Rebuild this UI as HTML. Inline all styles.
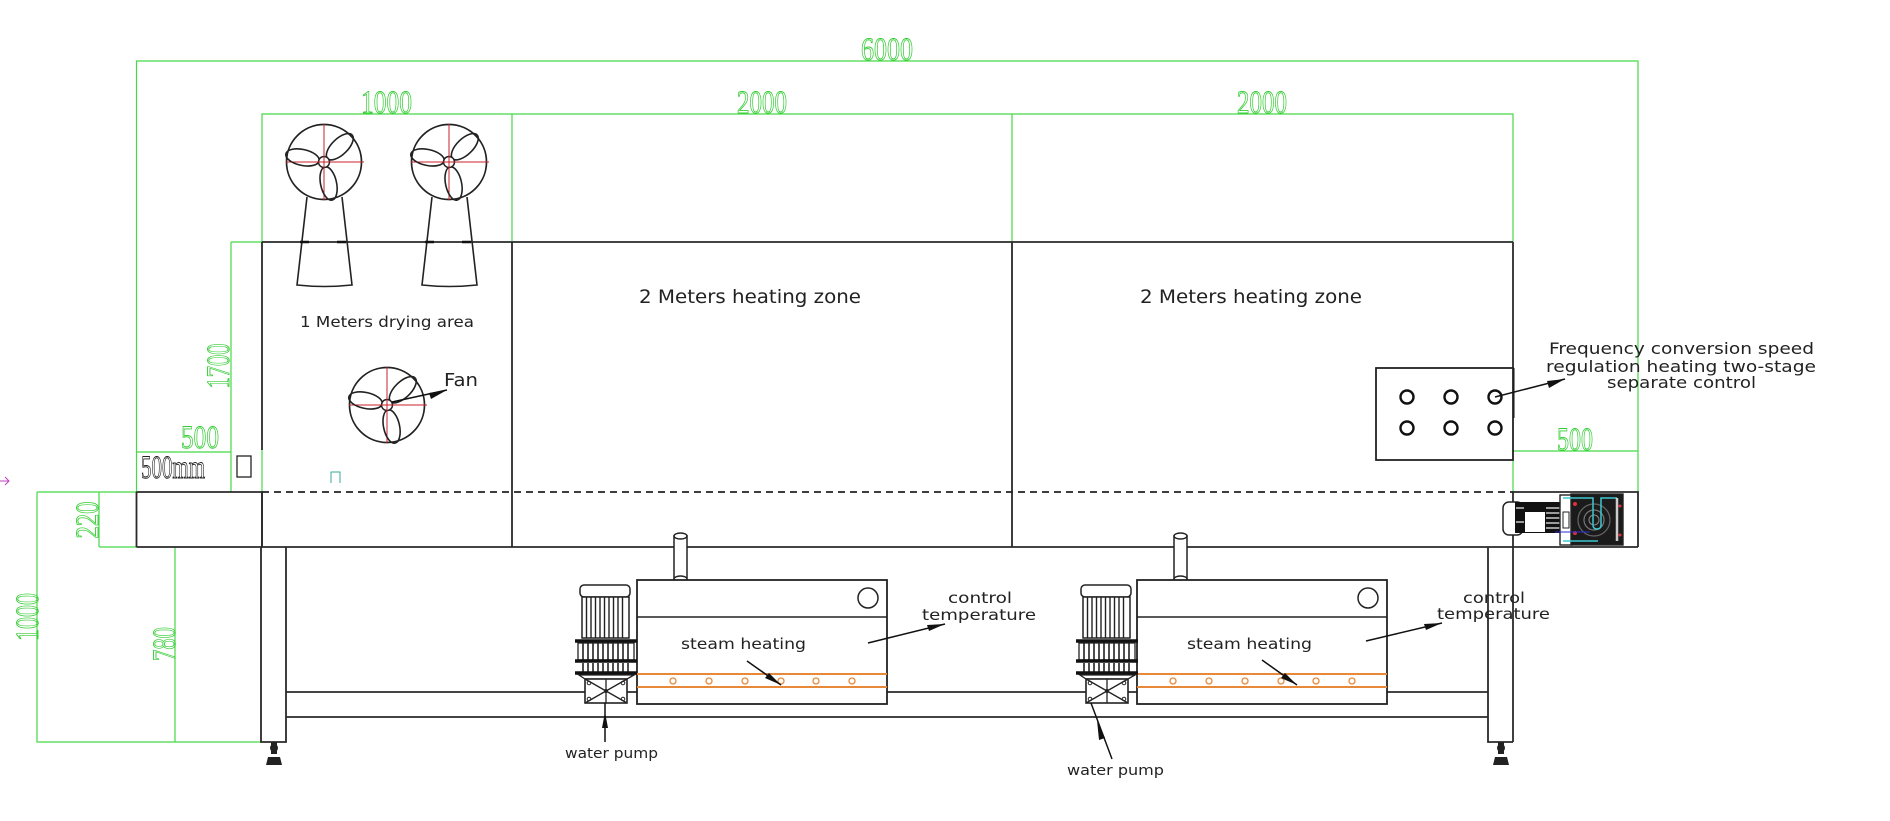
<!DOCTYPE html>
<html><head><meta charset="utf-8"><style>
html,body{margin:0;padding:0;background:#fff;}
svg{display:block;}
.k{stroke:#2a2a2a;stroke-width:1.8;fill:none;}
.gl{stroke:#45d945;stroke-width:1.2;fill:none;}
.cad{fill:none;stroke:#35cc35;stroke-width:0.9;font-family:"Liberation Serif",serif;font-size:33px;}
.lbl{fill:#222;font-family:"DejaVu Sans","Liberation Sans",sans-serif;}
.or{stroke:#e8893a;stroke-width:2;fill:none;}
</style></head><body>
<svg width="1890" height="821" viewBox="0 0 1890 821" xmlns="http://www.w3.org/2000/svg">
<defs>
<g id="fan">
  <circle r="37.5" fill="#fff" stroke="#222" stroke-width="1.7"/>
  <line x1="-38" y1="0" x2="40" y2="0" stroke="#c8202a" stroke-width="1"/>
  <line x1="0" y1="-38" x2="0" y2="38" stroke="#c8202a" stroke-width="1"/>
  <g fill="none" stroke="#222" stroke-width="1.6">
    <ellipse rx="17" ry="8" transform="rotate(-44) translate(22,0)"/>
    <ellipse rx="17" ry="8" transform="rotate(192) translate(22,0)"/>
    <ellipse rx="17" ry="8" transform="rotate(78) translate(22,0)"/>
  </g>
  <circle r="5.5" fill="#fff" stroke="#222" stroke-width="1.5"/>
  <line x1="-8" y1="0" x2="8" y2="0" stroke="#c8202a" stroke-width="1"/>
  <line x1="0" y1="-8" x2="0" y2="8" stroke="#c8202a" stroke-width="1"/>
</g>
<g id="pump">
  <rect x="580" y="585" width="50" height="12" rx="4" fill="#fff" stroke="#222" stroke-width="1.5"/>
  <rect x="582" y="597" width="47" height="41" fill="#fff" stroke="#222" stroke-width="1.5"/>
  <path d="M586.5,597V638M591,597V638M595.5,597V638M600,597V638M604.5,597V638M609,597V638M613.5,597V638M618,597V638M622.5,597V638" stroke="#222" stroke-width="1.4"/>
  <line x1="575" y1="641" x2="637" y2="641" stroke="#111" stroke-width="3.5"/>
  <rect x="578" y="643" width="56" height="17" fill="#fff" stroke="#222" stroke-width="1.3"/>
  <path d="M583,643V660M588,643V660M593,643V660M598,643V660M603,643V660M608,643V660M613,643V660M618,643V660M623,643V660M628,643V660" stroke="#222" stroke-width="1.6"/>
  <line x1="575" y1="661" x2="637" y2="661" stroke="#111" stroke-width="3.5"/>
  <path d="M583,663V672M588,663V672M593,663V672M598,663V672M603,663V672M608,663V672M613,663V672M618,663V672M623,663V672M628,663V672" stroke="#222" stroke-width="1.6"/>
  <line x1="575" y1="673" x2="637" y2="673" stroke="#111" stroke-width="3.5"/>
  <path d="M579,675H634L627,679H585Z" fill="#fff" stroke="#222" stroke-width="1.3"/>
  <rect x="585" y="679" width="42" height="24" fill="#fff" stroke="#222" stroke-width="1.6"/>
  <path d="M585,679L627,703M627,679L585,703M606,679V703" stroke="#222" stroke-width="1.3"/>
  <circle cx="589" cy="683" r="1.8" fill="none" stroke="#222"/>
  <circle cx="623" cy="683" r="1.8" fill="none" stroke="#222"/>
  <circle cx="589" cy="699" r="1.8" fill="none" stroke="#222"/>
  <circle cx="623" cy="699" r="1.8" fill="none" stroke="#222"/>
  <circle cx="606" cy="691" r="2" fill="#222"/>
</g>
<g id="tank">
  <rect x="674" y="536" width="13" height="44" fill="#fff" stroke="#222" stroke-width="1.5"/>
  <ellipse cx="680.5" cy="536" rx="6.5" ry="3" fill="#fff" stroke="#222" stroke-width="1.5"/>
  <ellipse cx="680.5" cy="579" rx="6.5" ry="3" fill="#fff" stroke="#222" stroke-width="1.5"/>
  <rect x="637" y="580" width="250" height="124" fill="#fff" stroke="#222" stroke-width="1.8"/>
  <line x1="637" y1="617" x2="887" y2="617" stroke="#222" stroke-width="1.6"/>
  <circle cx="868" cy="598" r="10" fill="none" stroke="#222" stroke-width="1.5"/>
  <line x1="637" y1="674" x2="887" y2="674" class="or"/>
  <line x1="637" y1="687" x2="887" y2="687" class="or"/>
  <g fill="#fff" stroke="#e8893a" stroke-width="1.3">
    <circle cx="673" cy="681" r="3"/><circle cx="709" cy="681" r="3"/><circle cx="745" cy="681" r="3"/>
    <circle cx="781" cy="681" r="3"/><circle cx="816" cy="681" r="3"/><circle cx="852" cy="681" r="3"/>
  </g>
</g>
</defs>

<!-- ============ GREEN DIMENSION LINES ============ -->
<g class="gl">
  <path d="M136.5,492V61H1638V492"/>
  <path d="M262,242V114H1513V242"/>
  <path d="M512,114V242M1012,114V242"/>
  <path d="M231,242H262M231,242V492"/>
  <path d="M136.5,452H231"/>
  <path d="M262,450V492"/>
  <path d="M1513,451H1638M1513,451V492"/>
  <path d="M37,492H136.5M99,547H136.5M99,492V547"/>
  <path d="M37,492V742H261M175,547V742"/>
</g>

<!-- CAD labels -->
<text class="cad" x="861" y="60" textLength="52" lengthAdjust="spacingAndGlyphs">6000</text>
<text class="cad" x="361" y="113" textLength="51" lengthAdjust="spacingAndGlyphs">1000</text>
<text class="cad" x="737" y="113" textLength="50" lengthAdjust="spacingAndGlyphs">2000</text>
<text class="cad" x="1237" y="113" textLength="50" lengthAdjust="spacingAndGlyphs">2000</text>
<text class="cad" x="181" y="448" font-size="30" textLength="38" lengthAdjust="spacingAndGlyphs">500</text>
<text class="cad" x="1557" y="450" font-size="31" textLength="36" lengthAdjust="spacingAndGlyphs">500</text>
<text class="cad" transform="translate(229,366) rotate(-90)" text-anchor="middle" font-size="32" textLength="45" lengthAdjust="spacingAndGlyphs">1700</text>
<text class="cad" transform="translate(98,520) rotate(-90)" text-anchor="middle" font-size="34" textLength="37" lengthAdjust="spacingAndGlyphs">220</text>
<text class="cad" transform="translate(38,617) rotate(-90)" text-anchor="middle" font-size="36" textLength="48" lengthAdjust="spacingAndGlyphs">1000</text>
<text class="cad" transform="translate(175,644) rotate(-90)" text-anchor="middle" font-size="34" textLength="34" lengthAdjust="spacingAndGlyphs">780</text>
<text x="141" y="478" font-family="Liberation Serif, serif" font-size="33" fill="none" stroke="#222" stroke-width="0.9" textLength="64" lengthAdjust="spacingAndGlyphs">500mm</text>
<rect x="237" y="456" width="14" height="21" fill="none" stroke="#222" stroke-width="1.3"/>

<!-- magenta mark & cyan mark -->
<path d="M0,481H9M5,477L9,481L5,485" stroke="#c040c0" stroke-width="1" fill="none"/>
<path d="M331,483V472H340V483" stroke="#3aa8a0" stroke-width="1" fill="none"/>

<!-- ============ MACHINE BODY ============ -->
<g class="k">
  <path d="M262,242H1513"/>
  <path d="M262,242V450M262,492V547"/>
  <path d="M1513,242V418"/>
  <path d="M512,242V547M1012,242V547"/>
  <path d="M136.5,492H262V547M136.5,492V547"/>
  <path d="M136.5,547H1638"/>
  <path d="M1513,492H1638V547"/>
  <path d="M1513,492V742"/>
  <path d="M261,547V742H286V547"/>
  <path d="M1488,547V742H1513"/>
  <path d="M286,692H1488M286,717H1488"/>
</g>
<path d="M1513,368V418" stroke="#111" stroke-width="3"/>
<line x1="262" y1="492" x2="1513" y2="492" stroke="#222" stroke-width="1.8" stroke-dasharray="7,5"/>

<!-- feet -->
<g fill="#222">
  <rect x="271" y="742" width="6" height="12"/>
  <circle cx="274" cy="748" r="4"/>
  <path d="M266,765L268,757H280L282,765Z"/>
  <rect x="1498" y="742" width="6" height="12"/>
  <circle cx="1501" cy="748" r="4"/>
  <path d="M1493,765L1495,757H1507L1509,765Z"/>
</g>

<!-- right motor -->
<rect x="1503" y="502" width="20" height="33" rx="6" fill="#fff" stroke="#222" stroke-width="1.5"/>
<rect x="1515" y="502" width="47" height="31" fill="#111"/>
<rect x="1525" y="512" width="20" height="20" fill="#fff"/>
<path d="M1546,508H1561M1546,513H1561M1546,518H1561M1546,523H1561M1546,528H1561M1516,508H1524M1516,522H1524" stroke="#eee" stroke-width="1.3"/>
<rect x="1560" y="495" width="12" height="50" fill="#fff" stroke="#222" stroke-width="1.4"/>
<rect x="1563" y="512" width="6" height="16" fill="#fff" stroke="#222"/>
<rect x="1571" y="494" width="52" height="51" fill="#1b1b1b" stroke="#222" stroke-width="1.4"/>
<circle cx="1594" cy="520" r="16" fill="none" stroke="#666" stroke-width="1.2"/>
<circle cx="1594" cy="520" r="10" fill="none" stroke="#777" stroke-width="1.2"/>
<circle cx="1594" cy="520" r="5" fill="none" stroke="#888" stroke-width="1"/>
<path d="M1563,498H1593V525Q1593,529 1597,529Q1601,529 1601,525V498H1617M1563,541H1598" stroke="#3cc8d0" stroke-width="1.5" fill="none"/>
<line x1="1617" y1="498" x2="1617" y2="541" stroke="#ccc" stroke-width="2.5"/>
<g fill="#e0303a"><circle cx="1575" cy="504" r="2"/><circle cx="1575" cy="533" r="2"/><circle cx="1620" cy="506" r="1.5"/><circle cx="1620" cy="535" r="1.5"/></g>
<path d="M1555,532H1590" stroke="#2a2ad0" stroke-width="1"/>

<!-- control box -->
<rect x="1376" y="368" width="137" height="92" fill="#fff" stroke="#222" stroke-width="1.8"/>
<g fill="none" stroke="#111" stroke-width="2.4">
  <circle cx="1407" cy="397" r="6.5"/><circle cx="1451" cy="397" r="6.5"/><circle cx="1495" cy="397" r="6.5"/>
  <circle cx="1407" cy="428" r="6.5"/><circle cx="1451" cy="428" r="6.5"/><circle cx="1495" cy="428" r="6.5"/>
</g>

<!-- fans -->
<g fill="none" stroke="#222" stroke-width="1.6">
  <path d="M307,197L297,285Q324,288 352,285L342,197"/>
  <path d="M432,197L422,285Q449,288 477,285L467,197"/>
</g>
<path d="M300,242h9M337,242h9M425,242h9M462,242h9" stroke="#111" stroke-width="2.5"/>
<use href="#fan" transform="translate(324,162)"/>
<use href="#fan" transform="translate(449,162)"/>
<use href="#fan" transform="translate(387,405)"/>

<!-- tanks & pumps -->
<use href="#tank"/>
<use href="#tank" transform="translate(500,0)"/>
<use href="#pump"/>
<use href="#pump" transform="translate(501,0)"/>

<!-- arrows -->
<g stroke="#111" stroke-width="1.5" fill="none">
  <path d="M392,402L447,390"/>
  <path d="M1495,397L1565,379"/>
  <path d="M747,661L781,685"/>
  <path d="M868,643L945,624"/>
  <path d="M1262,660L1297,685"/>
  <path d="M1366,641L1442,623"/>
  <path d="M605,703V742"/>
  <path d="M1091,703L1112,759"/>
</g>
<g fill="#111">
  <path d="M447,390L431,399L429,393Z"/>
  <path d="M1565,379L1549,388L1547,381Z"/>
  <path d="M781,685L765,678L769,673Z"/>
  <path d="M945,624L929,631L927,625Z"/>
  <path d="M1297,685L1281,678L1285,673Z"/>
  <path d="M1442,623L1426,630L1424,624Z"/>
  <path d="M605,712L602,728H608Z"/>
  <path d="M1097,720L1099,740L1105,738Z"/>
</g>

<!-- labels -->
<g class="lbl">
  <text x="300" y="327" font-size="15" textLength="174" lengthAdjust="spacingAndGlyphs">1 Meters drying area</text>
  <text x="444" y="386" font-size="18" textLength="34" lengthAdjust="spacingAndGlyphs">Fan</text>
  <text x="639" y="303" font-size="19" textLength="222" lengthAdjust="spacingAndGlyphs">2 Meters heating zone</text>
  <text x="1140" y="303" font-size="19" textLength="222" lengthAdjust="spacingAndGlyphs">2 Meters heating zone</text>
  <text x="1549" y="354" font-size="16" textLength="265" lengthAdjust="spacingAndGlyphs">Frequency conversion speed</text>
  <text x="1546" y="372" font-size="16" textLength="270" lengthAdjust="spacingAndGlyphs">regulation heating two-stage</text>
  <text x="1607" y="388" font-size="16" textLength="149" lengthAdjust="spacingAndGlyphs">separate control</text>
  <text x="948" y="603" font-size="15" textLength="64" lengthAdjust="spacingAndGlyphs">control</text>
  <text x="922" y="620" font-size="15" textLength="114" lengthAdjust="spacingAndGlyphs">temperature</text>
  <text x="1463" y="603" font-size="15" textLength="62" lengthAdjust="spacingAndGlyphs">control</text>
  <text x="1437" y="619" font-size="15" textLength="113" lengthAdjust="spacingAndGlyphs">temperature</text>
  <text x="681" y="649" font-size="15" textLength="125" lengthAdjust="spacingAndGlyphs">steam heating</text>
  <text x="1187" y="649" font-size="15" textLength="125" lengthAdjust="spacingAndGlyphs">steam heating</text>
  <text x="565" y="758" font-size="14" textLength="93" lengthAdjust="spacingAndGlyphs">water pump</text>
  <text x="1067" y="775" font-size="14" textLength="97" lengthAdjust="spacingAndGlyphs">water pump</text>
</g>
</svg>
</body></html>
